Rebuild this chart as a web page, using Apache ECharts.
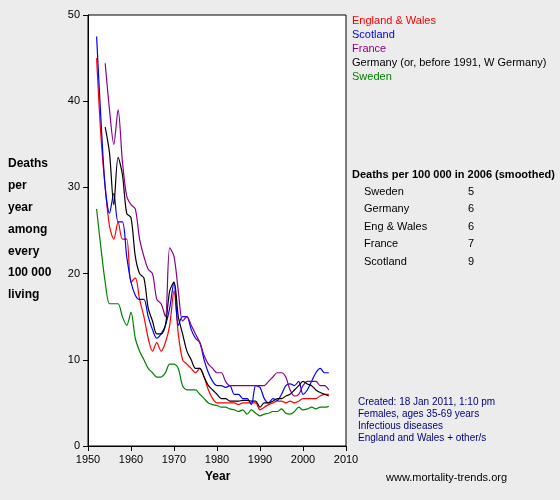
<!DOCTYPE html>
<html><head><meta charset="utf-8">
<script src="https://cdn.jsdelivr.net/npm/echarts@6/dist/echarts.min.js"></script>
<style>html,body{margin:0;padding:0;background:#ececec}#c{width:560px;height:500px}</style>
</head><body><div id="c"></div>
<script>
const startEW=1952, englandWales=[45,36,30,25.5,24,26,24,24,19,19.5,17,15,12.5,11,12,11,12,14,18,13,10,9.5,9,8.5,9,8,6.5,5.5,5,5,5,5,5,4.8,5,5,5,5,4.2,4.5,4.8,5,5.2,5.2,5,5.2,5,5.2,5.5,5.5,5.5,5.5,5.8,6,6];
const startSc=1952, scotland=[47.5,38,30,27,29.3,26,26,22,19,17.5,17,17,15,13.5,12.5,13,14,16,19,14,15,15,13.5,12.5,12,10,8.5,7.5,7,7,6.8,7,6,6,5.5,5.5,4.8,7,6.8,5.5,5,5.5,5.3,6,7,7.2,7,7.5,6,6.5,7.5,8.5,9,8.5,8.5];
const startFr=1954, france=[44.4,39,35,39,33,29,28,27.5,24,22,20.5,20,17,16.5,15,23,22,18,14.5,15,14,13,12,10.5,9.5,9,8.5,8.5,7.5,7,7,7,7,7,7,7,7,7,7.5,8,8.5,8.5,8,6.5,5.8,6,7,7.5,7.5,7.5,7,7,6.5];
const startDe=1954, germany=[37,34,28,33.5,31.5,27,26.5,22,20,19.5,16,14.5,13,13,14,18,19,15,13,11,10,9,9,8,7,6.5,6,5.5,5.5,5.2,5.2,5.2,5.3,5.3,5.2,5.2,4.5,5,5,5.2,5.5,5.5,5.8,6,6.5,7,7.5,7.2,7,6.5,6.2,6,5.8];
const startSe=1952, sweden=[27.5,23,19,16.5,16.5,16.5,15,14,15.5,12.5,11,10,9,8.5,8,8,8.5,9.5,9.5,9,7,6.5,6.5,6.5,6,5.5,5,4.8,4.7,4.5,4.5,4.3,4.2,4,4.2,3.7,4.2,3.8,3.5,3.7,3.8,4,4,4.3,3.8,3.7,4,4.5,4.2,4.3,4.5,4.3,4.5,4.5,4.6];
const tableNames=['Sweden','Germany','Eng & Wales','France','Scotland'];
const tableValues=[5,6,6,7,9];
const legendNames=['England & Wales','Scotland','France','Germany (or, before 1991, W Germany)','Sweden'];
const colors=['#ff0000','#0000ff','#8b008b','#000000','#008000'];

function pairs(s,a){return a.map((v,i)=>[s+i,v]);}
const sets=[pairs(startEW,englandWales),pairs(startSc,scotland),pairs(startFr,france),pairs(startDe,germany),pairs(startSe,sweden)];
const F='Liberation Sans, Arial, sans-serif';
const g=[];
legendNames.forEach((n,i)=>g.push({type:'text',left:352,top:15+i*14.2,style:{text:n,fill:colors[i],font:'11px '+F}}));
g.push({type:'text',left:352,top:169,style:{text:'Deaths per 100 000 in 2006 (smoothed)',fill:'#000',font:'bold 11px '+F}});
tableNames.forEach((n,i)=>{g.push({type:'text',left:364,top:186+i*17.5,style:{text:n,fill:'#000',font:'11px '+F}});
 g.push({type:'text',left:468,top:186+i*17.5,style:{text:String(tableValues[i]),fill:'#000',font:'11px '+F}});});
['Deaths','per','year','among','every','100 000','living'].forEach((t,i)=>g.push({type:'text',left:8,top:158+i*21.8,style:{text:t,fill:'#000',font:'bold 12px '+F}}));
['Created: 18 Jan 2011, 1:10 pm','Females, ages 35-69 years','Infectious diseases','England and Wales + other/s'].forEach((t,i)=>g.push({type:'text',left:358,top:397+i*12,style:{text:t,fill:'#000080',font:'10px '+F}}));
g.push({type:'text',left:386,top:472,style:{text:'www.mortality-trends.org',fill:'#000',font:'11px '+F}});
g.push({type:'text',left:205,top:471,style:{text:'Year',fill:'#000',font:'bold 12px '+F}});

const chart=echarts.init(document.getElementById('c'));
chart.setOption({
 backgroundColor:'#ececec',animation:false,
 grid:{left:88,top:15,right:214,bottom:54,show:true,backgroundColor:'#fff',borderColor:'#000',borderWidth:1},
 xAxis:{type:'value',min:1950,max:2010,interval:10,axisLine:{lineStyle:{color:'#000'}},axisTick:{length:5,lineStyle:{color:'#000'}},axisLabel:{color:'#000',fontFamily:F,fontSize:11,formatter:v=>String(v)},splitLine:{show:false}},
 yAxis:{type:'value',min:0,max:50,interval:10,axisLine:{show:true,lineStyle:{color:'#000'}},axisTick:{show:true,length:5,lineStyle:{color:'#000'}},axisLabel:{color:'#000',fontFamily:F,fontSize:11},splitLine:{show:false}},
 series:sets.map((d,i)=>({type:'line',data:d,smooth:0.3,showSymbol:false,lineStyle:{color:colors[i],width:1.2},itemStyle:{color:colors[i]}})),
 graphic:g
});
</script></body></html>
